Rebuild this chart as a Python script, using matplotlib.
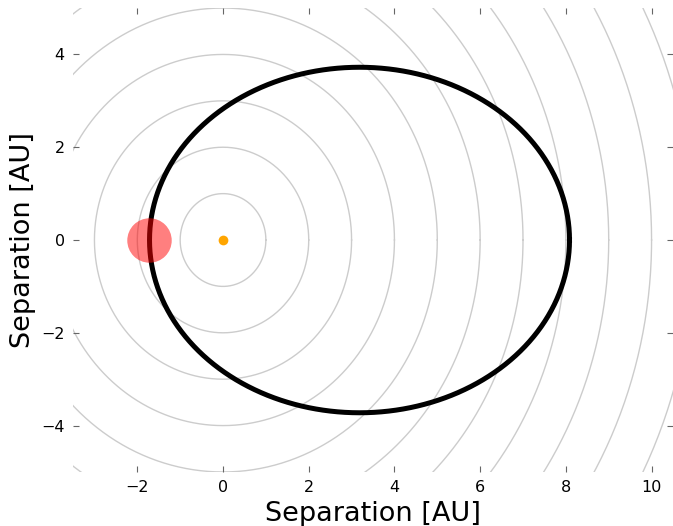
import numpy as np
import matplotlib.pyplot as plt

# orbit parameters (AU)
semi_major = 4.9
eccentricity = 0.65
star_xy = [0.0, 0.0]
planet_xy = [-1.72, 0.0]
grid_radii = [1, 2, 3, 4, 5, 6, 7, 8, 9, 10, 11, 12]
xticks = [-2, 0, 2, 4, 6, 8, 10]
yticks = [-4, -2, 0, 2, 4]

fig = plt.figure(figsize=(6.73, 5.26), dpi=100)
ax = fig.add_axes([0.1085, 0.1027, 0.8915, 0.882])

theta = np.linspace(0, 2 * np.pi, 721)
for r in grid_radii:
    ax.plot(r * np.cos(theta), r * np.sin(theta), color='#cccccc', lw=1, zorder=1)

# ellipse with the star at one focus
c = semi_major * eccentricity
b = semi_major * np.sqrt(1 - eccentricity ** 2)
ax.plot(c + semi_major * np.cos(theta), b * np.sin(theta), color='black', lw=3.6, zorder=2)

ax.plot(star_xy[0], star_xy[1], 'o', color='orange', markersize=7, mec='none', zorder=3)
ax.plot(planet_xy[0], planet_xy[1], 'o', color='red', alpha=0.5, markersize=32, mec='none', zorder=4)

ax.set_xlim(-3.5, 10.5)
ax.set_ylim(-5, 5)
ax.set_xticks(xticks)
ax.set_yticks(yticks)
for s in ax.spines.values():
    s.set_visible(False)
ax.tick_params(direction='in', top=True, right=True, length=4, width=0.8,
               color='#666666', labelsize=11.5, pad=6)
ax.set_xlabel('Separation [AU]', fontsize=19.5)
ax.set_ylabel('Separation [AU]', fontsize=19.5)

fig.savefig('out.png', dpi=100)
